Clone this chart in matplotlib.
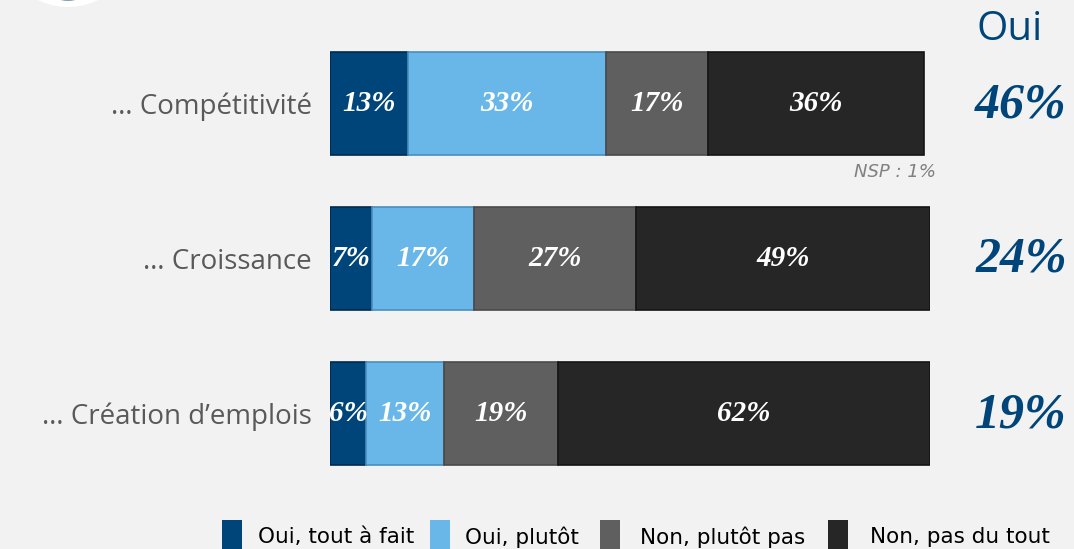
import matplotlib
matplotlib.use("Agg")
import matplotlib.pyplot as plt
from matplotlib.patches import Rectangle, Ellipse

categories = ["… Compétitivité", "… Croissance", "… Création d’emplois"]
series_names = ["Oui, tout à fait", "Oui, plutôt", "Non, plutôt pas", "Non, pas du tout"]
tout_a_fait = [13, 7, 6]
plutot = [33, 17, 13]
plutot_pas = [17, 27, 19]
pas_du_tout = [36, 49, 62]
oui_totals = ["46%", "24%", "19%"]
nsp_note = "NSP : 1%"
oui_header = "Oui"

colors = ["#00457a", "#68b7e8", "#5f5f5f", "#262626"]
edge_colors = ["#002a4c", "#4a8fbd", "#4a4a4a", "#141414"]
bg = "#f2f2f2"

W, H = 1074, 549
fig = plt.figure(figsize=(W / 100, H / 100), dpi=100, facecolor=bg)
ax_left, ax_right = 330 / W, 930 / W
top_px, bot_px = 103.5 - 77.5, 413.5 + 77.5
ax = fig.add_axes([ax_left, 1 - bot_px / H, ax_right - ax_left, (bot_px - top_px) / H])
ax.set_facecolor(bg)
ax.set_xlim(0, 100)
ax.set_ylim(2.5, -0.5)

series = [tout_a_fait, plutot, plutot_pas, pas_du_tout]
ypos = list(range(len(categories)))
bar_h = 103 / 155
val_font = dict(family="Liberation Serif", style="italic", weight="bold")
lefts = [0] * len(categories)
for vals, c, ec in zip(series, colors, edge_colors):
    ax.barh(ypos, vals, left=lefts, height=bar_h, color=c, edgecolor=ec, linewidth=1.2)
    for i, v in enumerate(vals):
        ax.text(lefts[i] + v / 2, ypos[i], f"{v}%", ha="center", va="center",
                color="white", fontsize=21, **val_font)
    lefts = [l + v for l, v in zip(lefts, vals)]

for s in ["top", "right", "bottom", "left"]:
    ax.spines[s].set_visible(False)
ax.set_xticks([])
ax.set_yticks(ypos)
ax.set_yticklabels(categories, fontsize=20, color="#595959", family="Open Sans")
ax.tick_params(axis="y", length=0, pad=13)

ax.text(lefts[0] + 2, ypos[0] + bar_h / 2 + 0.11, nsp_note, ha="right", va="center",
        color="#808080", fontsize=13, style="italic", family="DejaVu Sans")

fig.text(1010 / W, 1 - 30 / H, oui_header, ha="center", va="center", color="#00457a",
         fontsize=29, family="Open Sans")
for i, t in enumerate(oui_totals):
    y_px = 105 + 155 * i
    fig.text(1021 / W, 1 - y_px / H, t, ha="center", va="center", color="#00457a",
             fontsize=36, **val_font)

leg_sq_x = [222, 430, 600, 828]
leg_tx_x = [258, 465, 640, 870]
for name, c, sx, tx in zip(series_names, colors, leg_sq_x, leg_tx_x):
    fig.patches.append(Rectangle((sx / W, 1 - 549 / H), 20 / W, 29 / H, transform=fig.transFigure,
                                 facecolor=c, edgecolor="none"))
    fig.text(tx / W, 1 - 537 / H, name, ha="left", va="center", color="black",
             fontsize=15.5, family="DejaVu Sans")

# partial logo circle at top-left (cut off)
for r, col in [(69, "white"), (62.5, "#00457a")]:
    fig.patches.append(Ellipse((68 / W, 1 + 62 / H), 2 * r / W, 2 * r / H,
                               transform=fig.transFigure, facecolor=col, edgecolor="none"))

fig.savefig("out.png", dpi=100, facecolor=bg)
